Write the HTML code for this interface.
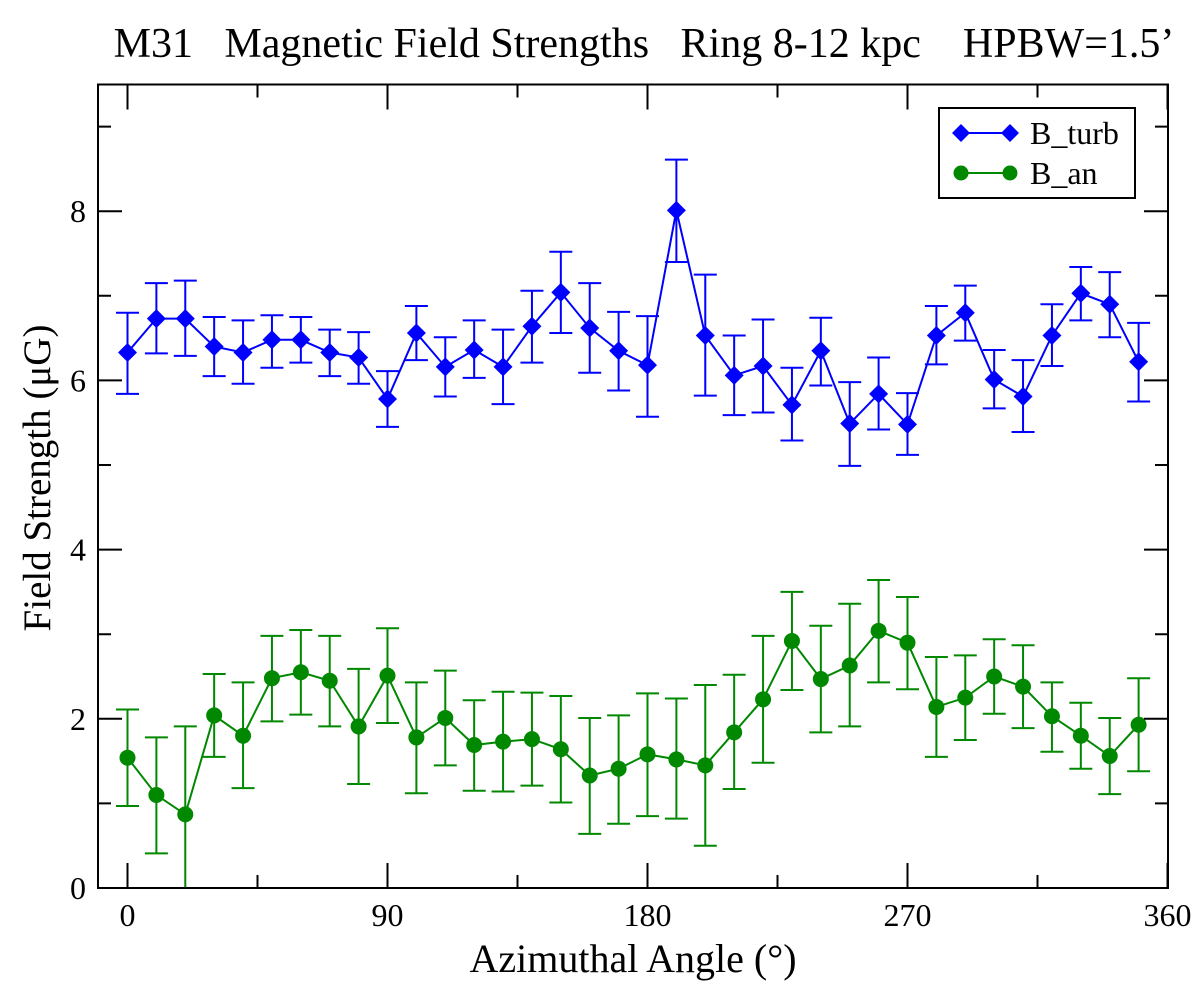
<!DOCTYPE html>
<html><head><meta charset="utf-8"><style>
html,body{margin:0;padding:0;background:#fff;}
svg{display:block;font-family:"Liberation Serif",serif;}
</style></head><body>
<svg id="chart" width="1200" height="982" viewBox="0 0 1200 982" xmlns="http://www.w3.org/2000/svg">
<text x="644" y="57" text-anchor="middle" font-size="42" xml:space="preserve">M31   Magnetic Field Strengths   Ring 8-12 kpc    HPBW=1.5’</text>
<g id="marks"></g>
<rect x="98" y="84.5" width="1070" height="803.5" fill="none" stroke="#000" stroke-width="2"/>
<g id="axes"></g>
<text x="633" y="972" text-anchor="middle" font-size="40">Azimuthal Angle (°)</text>
<text transform="translate(50,478) rotate(-90)" text-anchor="middle" font-size="39">Field Strength (μG)</text>
<g>
<rect x="939" y="108" width="196" height="90" fill="#fff" stroke="#000" stroke-width="2"/>
<g>
<line x1="961" y1="133" x2="1010" y2="133" stroke="#0000ff" stroke-width="2"/>
<path d="M961 124 L970 133 L961 142 L952 133Z M1010 124 L1019 133 L1010 142 L1001 133Z" fill="#0000ff"/>
<text x="1030" y="144" font-size="32">B_turb</text>
</g>
<g>
<line x1="961" y1="173" x2="1010" y2="173" stroke="#008800" stroke-width="2"/>
<circle cx="961" cy="173" r="7.5" fill="#008800"/><circle cx="1010" cy="173" r="7.5" fill="#008800"/>
<text x="1030" y="184" font-size="32">B_an</text>
</g>
</g>
</svg>
<script>
const angles=[0,10,20,30,40,50,60,70,80,90,100,110,120,130,140,150,160,170,180,190,200,210,220,230,240,250,260,270,280,290,300,310,320,330,340,350];
const turb=[6.33,6.73,6.73,6.40,6.33,6.48,6.48,6.33,6.27,5.78,6.56,6.16,6.36,6.16,6.64,7.04,6.62,6.35,6.18,8.01,6.53,6.06,6.17,5.71,6.35,5.49,5.84,5.48,6.53,6.80,6.01,5.81,6.53,7.03,6.90,6.22];
const turbHi=[6.80,7.15,7.18,6.75,6.71,6.77,6.75,6.60,6.57,6.11,6.88,6.51,6.71,6.60,7.06,7.52,7.15,6.81,6.76,8.61,7.25,6.53,6.72,6.15,6.74,5.98,6.27,5.85,6.88,7.12,6.36,6.24,6.90,7.34,7.28,6.68];
const turbLo=[5.84,6.32,6.29,6.05,5.96,6.15,6.21,6.05,5.96,5.45,6.24,5.81,6.03,5.72,6.21,6.56,6.09,5.88,5.57,7.40,5.82,5.59,5.62,5.29,5.94,4.99,5.42,5.12,6.19,6.47,5.67,5.39,6.17,6.71,6.51,5.75];
const an=[1.54,1.10,0.87,2.04,1.80,2.48,2.55,2.45,1.91,2.51,1.78,2.01,1.69,1.73,1.76,1.64,1.33,1.41,1.58,1.52,1.45,1.84,2.23,2.92,2.47,2.63,3.04,2.90,2.14,2.25,2.50,2.38,2.03,1.80,1.56,1.93];
const anHi=[2.11,1.78,1.91,2.53,2.43,2.98,3.05,2.98,2.59,3.07,2.43,2.57,2.22,2.32,2.31,2.27,2.01,2.04,2.30,2.24,2.40,2.52,2.98,3.50,3.10,3.36,3.64,3.44,2.73,2.75,2.94,2.87,2.43,2.19,2.01,2.48];
const anLo=[0.97,0.41,0.0,1.55,1.18,1.97,2.05,1.91,1.23,1.95,1.12,1.45,1.15,1.14,1.21,1.01,0.64,0.76,0.85,0.82,0.50,1.17,1.48,2.34,1.84,1.91,2.43,2.35,1.55,1.75,2.06,1.89,1.61,1.41,1.11,1.38];
const xTicks=[0,90,180,270,360];
const yTicks=[0,2,4,6,8];

const NS="http://www.w3.org/2000/svg";
function X(v){return 127.5+(v)*1040/360;}
function Y(v){return 888-v*84.6;}
function mk(t,a,p){const e=document.createElementNS(NS,t);for(const k in a)e.setAttribute(k,a[k]);p.appendChild(e);return e;}
const marks=document.getElementById('marks');
const axes=document.getElementById('axes');

function series(name,vals,hi,lo,color,shape){
  const g=mk('g',{},marks);
  
  
  let d='';
  vals.forEach((v,i)=>{
    const x=X(angles[i]);
    const eb=mk('path',{d:`M${x-11.5} ${Y(hi[i])}H${x+11.5}M${x} ${Y(hi[i])}V${Y(Math.max(lo[i],0))}`+(lo[i]>0?`M${x-11.5} ${Y(lo[i])}H${x+11.5}`:''),stroke:color,'stroke-width':2,fill:'none'},g);
    
    
    d+=(i?'L':'M')+x+' '+Y(v);
  });
  const ln=mk('path',{d:d,stroke:color,'stroke-width':2,fill:'none'},g);
  
  
  vals.forEach((v,i)=>{
    const x=X(angles[i]),y=Y(v);let m;
    if(shape==='d')m=mk('path',{d:`M${x} ${y-9.5}L${x+9.5} ${y}L${x} ${y+9.5}L${x-9.5} ${y}Z`,fill:color},g);
    else m=mk('circle',{cx:x,cy:y,r:8,fill:color},g);
    
    
  });
}
series('b-an',an,anHi,anLo,'#008800','c');
series('b-turb',turb,turbHi,turbLo,'#0000ff','d');

for(let v=0;v<=360;v+=45){
  const major=v%90===0,L=major?25:13,x=X(v);
  const t=mk('path',{d:`M${x} 888V${888-L}M${x} 84.5V${84.5+L}`,stroke:'#000','stroke-width':2},axes);
  
  
}
xTicks.forEach(v=>{
  const t=mk('text',{x:X(v),y:926,'text-anchor':'middle','font-size':32},axes);
  t.textContent=v;
  
  
});
for(let v=0;v<=9;v++){
  const major=v%2===0,L=major?24:13,y=Y(v);
  const t=mk('path',{d:`M98 ${y}H${98+L}M1168 ${y}H${1168-L}`,stroke:'#000','stroke-width':2},axes);
  
  
}
yTicks.forEach(v=>{
  const t=mk('text',{x:86,y:Y(v)+11,'text-anchor':'end','font-size':32},axes);
  t.textContent=v;
  
  
});
</script>
</body></html>
